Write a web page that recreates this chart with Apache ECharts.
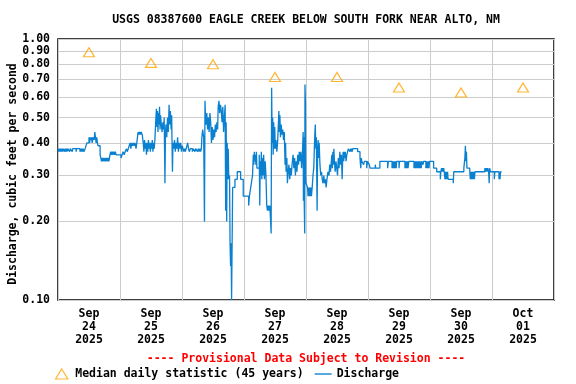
<!DOCTYPE html>
<html><head><meta charset="utf-8">
<script src="https://cdn.jsdelivr.net/npm/echarts@6/dist/echarts.min.js"></script>
<style>html,body{margin:0;padding:0;background:#fff}#c{width:576px;height:384px}</style>
</head><body><div id="c"></div>
<script>
const titleText = 'USGS 08387600 EAGLE CREEK BELOW SOUTH FORK NEAR ALTO, NM';
const yAxisTitle = 'Discharge, cubic feet per second';
const provisionalText = '---- Provisional Data Subject to Revision ----';
const xTickLabels = ['Sep\n24\n2025','Sep\n25\n2025','Sep\n26\n2025','Sep\n27\n2025','Sep\n28\n2025','Sep\n29\n2025','Sep\n30\n2025','Oct\n01\n2025'];
const yTickValues = [0.1,0.2,0.3,0.4,0.5,0.6,0.7,0.8,0.9,1.0];
const medianName = 'Median daily statistic (45 years)';
const dischargeName = 'Discharge';
// median daily statistic at noon of each day
const medianValues = [0.89,0.81,0.80,0.715,0.715,0.652,0.624,0.652];
// discharge: [hours since Sep 24 00:00, cfs]
const dischargeDay1 = [[0,0.38],[0.25,0.37],[0.5,0.38],[0.75,0.37],[1,0.38],[1.25,0.37],[1.5,0.38],[1.75,0.37],[2,0.38],[2.5,0.37],[2.75,0.38],[3,0.37],[3.25,0.38],[3.5,0.37],[3.75,0.38],[4.5,0.37],[4.75,0.38],[5.5,0.37],[5.75,0.38],[7,0.37],[7.25,0.38],[8.5,0.37],[8.75,0.38],[9,0.37],[9.25,0.38],[9.5,0.37],[9.75,0.38],[10,0.37],[10.5,0.38],[11.2,0.40],[12,0.42],[12.25,0.40],[12.5,0.42],[12.75,0.41],[13,0.42],[13.25,0.40],[13.5,0.42],[14,0.41],[14.25,0.44],[14.5,0.42],[14.75,0.40],[15,0.42],[15.25,0.40],[15.5,0.39],[16.3,0.36],[16.6,0.35],[16.8,0.34],[17,0.35],[17.3,0.34],[17.6,0.35],[17.9,0.34],[18.2,0.35],[18.5,0.34],[18.8,0.35],[19.1,0.34],[19.4,0.35],[19.7,0.34],[20.1,0.36],[20.4,0.37],[20.7,0.36],[21,0.37],[21.3,0.36],[21.6,0.37],[21.9,0.36],[22.2,0.37],[22.5,0.36]];
const dischargeDay2 = [[24.4,0.35],[24.8,0.36],[25.2,0.37],[25.6,0.36],[26,0.37],[26.5,0.38],[26.8,0.37],[27.2,0.38],[27.9,0.40],[28.2,0.38],[28.5,0.40],[28.8,0.39],[29.2,0.40],[29.5,0.39],[29.8,0.40],[30.2,0.38],[30.5,0.40],[31,0.44],[31.3,0.43],[31.6,0.44],[31.9,0.43],[32.2,0.44],[32.6,0.43],[33,0.40],[33.25,0.37],[33.5,0.41],[33.75,0.38],[34,0.40],[34.25,0.36],[34.5,0.40],[34.75,0.37],[35,0.41],[35.25,0.38],[35.5,0.40],[35.75,0.37],[36,0.40],[36.25,0.38],[36.5,0.41],[36.75,0.37],[37,0.40],[37.25,0.38],[37.5,0.41],[37.9,0.50],[38.1,0.54],[38.3,0.46],[38.5,0.53],[38.7,0.44],[38.9,0.52],[39.1,0.47],[39.3,0.55],[39.5,0.45],[39.7,0.51],[40,0.47],[40.3,0.44],[40.6,0.48],[40.9,0.45],[41.1,0.50],[41.4,0.28],[41.6,0.44],[41.8,0.47],[42.1,0.42],[42.4,0.50],[42.7,0.44],[43,0.56],[43.2,0.47],[43.5,0.53],[43.8,0.45],[44,0.51],[44.3,0.31],[44.5,0.40],[44.8,0.38],[45.1,0.41],[45.4,0.37],[45.7,0.40],[46,0.38],[46.3,0.42],[46.6,0.37],[46.9,0.40],[47.2,0.38],[47.5,0.40],[47.8,0.37]];
const dischargeDay3 = [[48.1,0.39],[48.4,0.38],[48.7,0.37],[49,0.38],[49.3,0.37],[49.6,0.38],[50.2,0.40],[50.5,0.38],[50.9,0.37],[51.2,0.38],[52,0.37],[52.3,0.38],[53,0.37],[53.3,0.38],[54,0.37],[54.3,0.38],[54.6,0.37],[54.9,0.38],[55.2,0.37],[55.5,0.38],[55.7,0.42],[56,0.45],[56.4,0.42],[56.7,0.20],[56.9,0.58],[57.1,0.50],[57.3,0.47],[57.6,0.52],[57.9,0.45],[58.2,0.50],[58.5,0.44],[58.8,0.52],[59.1,0.48],[59.4,0.40],[59.7,0.46],[60,0.41],[60.3,0.45],[60.6,0.42],[60.9,0.47],[61.2,0.44],[61.5,0.48],[61.8,0.45],[62,0.55],[62.3,0.58],[62.6,0.52],[62.9,0.56],[63.2,0.53],[63.5,0.48],[63.8,0.55],[64.1,0.44],[64.4,0.50],[64.7,0.56],[64.9,0.22],[65.1,0.48],[65.3,0.20],[65.5,0.40],[65.7,0.29],[65.9,0.38],[66.1,0.29],[66.4,0.30],[66.6,0.165],[66.8,0.135],[67.0,0.165],[67.2,0.10],[67.4,0.165],[67.6,0.27],[68.5,0.29],[69.4,0.31],[70.7,0.29],[71.7,0.25]];
const dischargeDay4 = [[73.8,0.23],[74.1,0.25],[74.6,0.27],[75.3,0.30],[75.6,0.36],[75.8,0.33],[76,0.37],[76.2,0.34],[76.4,0.36],[76.6,0.33],[76.8,0.37],[77,0.32],[77.9,0.36],[78.1,0.23],[78.3,0.34],[78.5,0.30],[78.7,0.37],[78.9,0.29],[79.1,0.35],[79.3,0.30],[79.6,0.36],[79.9,0.29],[80.2,0.34],[80.5,0.30],[80.8,0.23],[81.1,0.22],[81.4,0.23],[81.7,0.22],[82,0.23],[82.3,0.20],[82.5,0.18],[82.7,0.65],[82.9,0.40],[83.1,0.50],[83.3,0.36],[83.5,0.48],[83.7,0.38],[83.9,0.46],[84.1,0.38],[84.4,0.41],[84.7,0.37],[85,0.40],[85.3,0.47],[85.5,0.53],[85.7,0.44],[85.9,0.51],[86.1,0.42],[86.4,0.47],[86.7,0.43],[87,0.45],[87.3,0.41],[87.6,0.44],[87.9,0.33],[88.1,0.40],[88.3,0.31],[88.6,0.35],[88.8,0.28],[89.1,0.31],[89.4,0.33],[89.7,0.29],[90,0.32],[90.3,0.30],[90.6,0.33],[91,0.36],[91.3,0.32],[91.6,0.35],[91.9,0.30],[92.2,0.34],[92.5,0.31],[92.8,0.36],[93.1,0.33],[93.4,0.37],[93.7,0.34],[94,0.37],[94.3,0.32],[94.6,0.36],[94.9,0.44],[95,0.24],[95.2,0.42],[95.3,0.24],[95.5,0.18],[95.6,0.67],[95.8,0.56],[95.9,0.30]];
const dischargeDay5 = [[96,0.28],[96.6,0.27],[96.8,0.25],[97,0.27],[97.2,0.25],[97.4,0.27],[97.6,0.25],[97.8,0.27],[98.1,0.25],[98.4,0.27],[98.7,0.30],[99,0.32],[99.4,0.43],[99.6,0.47],[99.8,0.38],[100,0.42],[100.3,0.22],[100.5,0.38],[100.7,0.41],[100.9,0.35],[101.1,0.40],[101.4,0.33],[101.7,0.30],[102,0.31],[102.3,0.29],[102.6,0.28],[102.9,0.30],[103.2,0.28],[103.5,0.29],[103.8,0.27],[104.1,0.29],[104.5,0.31],[104.9,0.30],[105.2,0.33],[105.5,0.31],[105.8,0.34],[106,0.36],[106.2,0.32],[106.4,0.37],[106.6,0.33],[106.8,0.38],[107,0.34],[107.3,0.31],[107.6,0.34],[107.9,0.32],[108.2,0.30],[108.5,0.35],[108.8,0.32],[109.1,0.37],[109.4,0.33],[109.7,0.36],[110,0.29],[110.2,0.35],[110.4,0.37],[110.6,0.34],[110.8,0.37],[111,0.35],[111.2,0.37],[111.5,0.34],[111.8,0.36],[112.4,0.38],[113,0.37],[113.3,0.38],[113.5,0.37],[113.7,0.38],[113.9,0.37],[114.1,0.38],[116,0.37],[116.9,0.35],[117.2,0.32],[117.4,0.35],[117.6,0.34],[118.3,0.33],[118.6,0.34],[119.5,0.32],[119.8,0.34],[120.5,0.33]];
const dischargeDay6 = [[120.8,0.32],[122.8,0.33],[123,0.32],[124.6,0.34],[127.6,0.32],[127.9,0.34],[129.3,0.32],[129.5,0.34],[129.7,0.32],[129.9,0.34],[130.1,0.32],[130.3,0.34],[130.5,0.32],[130.7,0.34],[130.9,0.32],[131.1,0.34],[132,0.32],[132.2,0.34],[134.3,0.32],[134.5,0.34],[134.7,0.32],[134.9,0.34],[135.1,0.32],[135.3,0.34],[135.5,0.32],[135.8,0.34],[137.8,0.32],[138,0.34],[138.2,0.32],[138.4,0.34],[138.6,0.32],[138.8,0.34],[139,0.32],[139.2,0.34],[139.4,0.32],[139.6,0.34],[139.8,0.32],[140,0.34],[140.2,0.32],[140.4,0.34],[140.6,0.32],[140.8,0.34],[141.3,0.33],[141.5,0.34],[142.4,0.32],[142.6,0.34],[142.8,0.32],[143,0.34],[143.2,0.32],[143.4,0.34],[143.6,0.32],[143.8,0.34]];
const dischargeDay7 = [[144.2,0.34],[145.4,0.32],[146.6,0.31],[148.0,0.29],[148.2,0.31],[148.5,0.32],[148.7,0.31],[148.9,0.32],[149.1,0.31],[149.3,0.32],[149.5,0.31],[149.8,0.29],[150,0.31],[150.2,0.29],[150.4,0.31],[150.6,0.29],[150.8,0.31],[151,0.29],[153,0.28],[153.2,0.31],[157.1,0.32],[157.5,0.35],[157.7,0.39],[157.9,0.34],[158.1,0.37],[158.3,0.32],[159.4,0.31],[159.6,0.29],[159.8,0.31],[160,0.29],[160.2,0.31],[160.4,0.29],[160.6,0.31],[160.8,0.29],[161,0.31],[161.2,0.29],[161.4,0.31],[165.2,0.32],[165.4,0.31],[165.6,0.32],[165.8,0.31],[166,0.32],[166.2,0.31],[166.4,0.32],[166.7,0.31],[166.9,0.28],[167.1,0.32],[167.4,0.31],[167.8,0.31],[168.9,0.29],[169.1,0.31],[170.7,0.29],[170.9,0.31],[171.1,0.29],[171.3,0.31],[171.7,0.31]];

const DAY = 86400000, HOUR = 3600000;
const t0 = Date.UTC(2025, 8, 24);
const FONT = '"DejaVu Sans Mono", "Liberation Mono", monospace';
const FS = 11.5;
const BLUE = '#0a80d0', ORANGE = '#FFA500';

const discharge = [].concat(dischargeDay1, dischargeDay2, dischargeDay3, dischargeDay4, dischargeDay5, dischargeDay6, dischargeDay7)
  .map(p => [t0 + p[0] * HOUR, p[1]]);
const medianData = medianValues.map((v, i) => [t0 + (i + 0.5) * DAY, v]);
const noonTicks = xTickLabels.map((_, i) => t0 + (i + 0.5) * DAY);
const yCustom = yTickValues.map(v => Math.log10(v));

const chart = echarts.init(document.getElementById('c'), null, {renderer: 'canvas'});
chart.setOption({
  animation: false,
  backgroundColor: '#fff',
  grid: {left: 58, right: 22, top: 39, bottom: 84, show: true, borderColor: '#000', borderWidth: 1.5, backgroundColor: 'transparent'},
  graphic: [
    {type: 'text', x: 306, y: 20, style: {text: titleText, fontFamily: FONT, fontWeight: 'bold', fontSize: FS, fill: '#000', align: 'center', verticalAlign: 'middle'}},
    {type: 'text', x: 306, y: 359, style: {text: provisionalText, fontFamily: FONT, fontWeight: 'bold', fontSize: FS, fill: '#ff0000', align: 'center', verticalAlign: 'middle'}},
    {type: 'text', x: 13, y: 174, rotation: Math.PI / 2, style: {text: yAxisTitle, fontFamily: FONT, fontWeight: 'bold', fontSize: FS, fill: '#000', align: 'center', verticalAlign: 'middle'}}
  ],
  legend: {
    left: 50, top: 363, itemWidth: 17, itemHeight: 10, itemGap: 11,
    data: [
      {name: medianName, icon: 'path://M5.5,0L11,9L0,9Z', itemStyle: {color: 'rgba(255,255,255,0)', borderColor: ORANGE, borderWidth: 1.2}},
      {name: dischargeName, icon: 'path://M0,0H20V1.6H0Z', itemStyle: {color: BLUE, borderWidth: 0}}
    ],
    textStyle: {fontFamily: FONT, fontWeight: 'bold', fontSize: FS, color: '#000'}
  },
  xAxis: [
    {type: 'value', min: t0, max: t0 + 8 * DAY, interval: DAY,
     axisLabel: {show: false}, axisTick: {show: false}, axisLine: {show: false, onZero: false},
     splitLine: {show: true, lineStyle: {color: '#cccccc', width: 1}}},
    {type: 'value', min: t0, max: t0 + 8 * DAY, position: 'bottom',
     axisLine: {show: false, onZero: false}, axisTick: {show: false}, splitLine: {show: false},
     axisLabel: {customValues: noonTicks, margin: 8, lineHeight: 13, fontFamily: FONT, fontWeight: 'bold', fontSize: FS, color: '#000',
       formatter: v => xTickLabels[Math.round((v - t0) / DAY - 0.5)] || ''}}
  ],
  yAxis: [
    {type: 'log', logBase: 10, min: 0.1, max: 1, position: 'left',
     axisLabel: {show: false}, axisTick: {show: false}, axisLine: {show: false, onZero: false}, splitLine: {show: false}},
    {type: 'value', min: -1, max: 0, position: 'left',
     axisLine: {show: false, onZero: false}, axisTick: {show: false, customValues: yCustom},
     axisLabel: {customValues: yCustom, margin: 8, fontFamily: FONT, fontWeight: 'bold', fontSize: FS, color: '#000',
       formatter: v => Math.pow(10, v).toFixed(2)},
     splitLine: {show: true, lineStyle: {color: '#cccccc', width: 1}}}
  ],
  series: [
    {name: medianName, type: 'scatter', xAxisIndex: 0, yAxisIndex: 0, data: medianData,
     symbol: 'triangle', symbolSize: [11, 9], z: 4,
     itemStyle: {color: 'rgba(255,255,255,0)', borderColor: ORANGE, borderWidth: 1.2}},
    {name: dischargeName, type: 'line', xAxisIndex: 0, yAxisIndex: 0, data: discharge,
     step: 'end', symbol: 'none', showSymbol: false, z: 3, clip: true,
     lineStyle: {color: BLUE, width: 1.3}, itemStyle: {color: BLUE}}
  ]
});
</script>
</body></html>
